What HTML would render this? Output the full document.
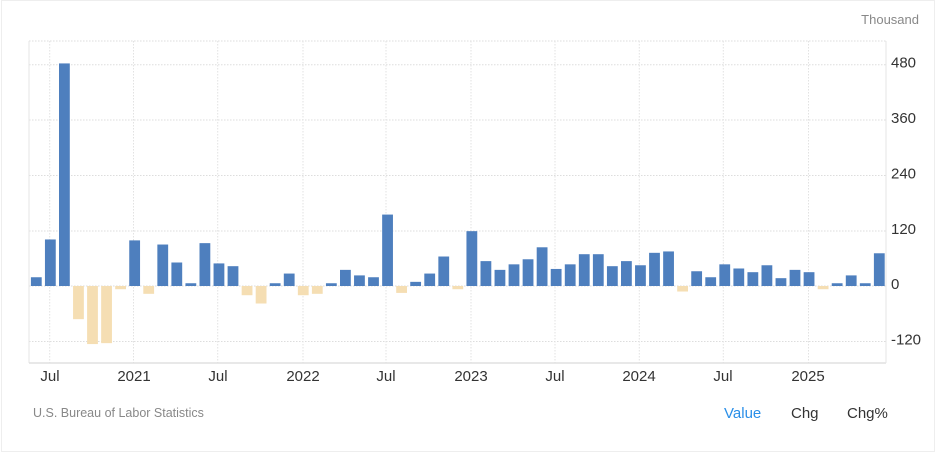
<!DOCTYPE html>
<html><head><meta charset="utf-8"><style>
html,body{margin:0;padding:0;background:#fff;}
body{width:936px;height:452px;overflow:hidden;font-family:"Liberation Sans",Arial,sans-serif;}
</style></head><body>
<svg id="s" width="936" height="452" xmlns="http://www.w3.org/2000/svg" font-family="Liberation Sans, Arial, sans-serif">
<rect x="1.5" y="0.5" width="933" height="451" fill="#fff" stroke="#eee"/>
<text x="919" y="24" font-size="13" fill="#888" text-anchor="end">Thousand</text>
<g id="grid"></g>
<line x1="29" y1="41" x2="29" y2="363" stroke="#e6e6e6"/>
<line x1="29" y1="363" x2="886" y2="363" stroke="#e0e0e0" stroke-width="1.5"/>
<line x1="886" y1="41" x2="886" y2="363" stroke="#e6e6e6"/>
<g id="bars"></g>
<g font-size="15" fill="#333">
<text x="891" y="67.5">480</text>
<text x="891" y="123">360</text>
<text x="891" y="178.5">240</text>
<text x="891" y="234">120</text>
<text x="891" y="289">0</text>
<text x="891" y="344.5">-120</text>
</g>
<g font-size="15" fill="#333" text-anchor="middle">
<text x="50" y="381">Jul</text>
<text x="134" y="381">2021</text>
<text x="218" y="381">Jul</text>
<text x="303" y="381">2022</text>
<text x="386" y="381">Jul</text>
<text x="471" y="381">2023</text>
<text x="555" y="381">Jul</text>
<text x="639" y="381">2024</text>
<text x="723" y="381">Jul</text>
<text x="808" y="381">2025</text>
</g>
<text x="33" y="417" font-size="12.5" fill="#888">U.S. Bureau of Labor Statistics</text>
<text x="724" y="418" font-size="15" fill="#2a8fe8">Value</text>
<text x="791" y="418" font-size="15" fill="#333">Chg</text>
<text x="847" y="418" font-size="15" fill="#333">Chg%</text>
</svg>
<script>
var NS="http://www.w3.org/2000/svg";
var g=document.getElementById("grid"),b=document.getElementById("bars");
function el(p,t,a){var e=document.createElementNS(NS,t);for(var k in a)e.setAttribute(k,a[k]);p.appendChild(e);}
[41,64.7,120,175.5,231,286,341.5].forEach(function(y){el(g,"line",{x1:29,x2:886,y1:y,y2:y,stroke:"#ddd","stroke-dasharray":"1.5,1.5"});});
[49.7,133.5,217.7,303,386,471,555,639.3,723.3,808.5].forEach(function(x){el(g,"line",{x1:x,x2:x,y1:41,y2:363,stroke:"#e2e2e2","stroke-dasharray":"1.5,1.5"});});
var v=[19,101,483,-72,-126,-124,-7,99,-17,90,51,6,93,49,43,-20,-38,6,27,-20,-17,6,35,23,19,155,-15,9,27,64,-7,119,54,35,47,58,84,37,47,69,69,43,54,45,72,75,-12,32,19,47,38,30,45,17,35,30,-7,6,23,6,71];
var y0=286,sc=55.3/120;
v.forEach(function(d,i){var cx=36.3+14.05*i,h=Math.abs(d)*sc;
el(b,"rect",{x:(cx-5.4).toFixed(2),y:(d>=0?y0-h:y0).toFixed(2),width:10.8,height:h.toFixed(2),fill:d>=0?"#4e7fbe":"#f5deb3"});});
</script>
</body></html>
